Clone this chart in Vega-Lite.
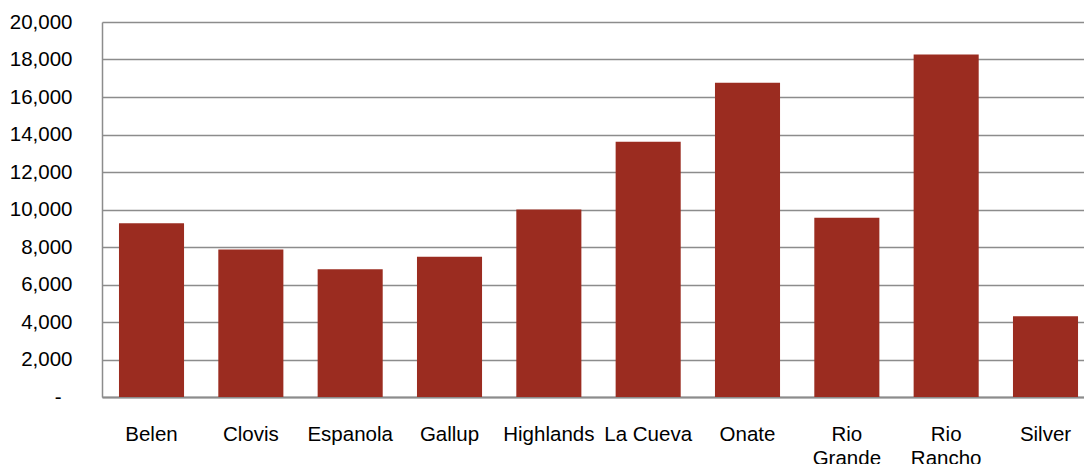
{
  "$schema": "https://vega.github.io/schema/vega-lite/v6.json",
  "width": 982,
  "height": 375,
  "autosize": {"type": "none"},
  "padding": {"left": 102, "top": 22, "right": 0, "bottom": 67},
  "background": "white",
  "data": {
    "values": [
      {"school": "Belen", "value": 9270},
      {"school": "Clovis", "value": 7870},
      {"school": "Espanola", "value": 6820},
      {"school": "Gallup", "value": 7480},
      {"school": "Highlands", "value": 10000},
      {"school": "La Cueva", "value": 13610},
      {"school": "Onate", "value": 16760},
      {"school": "Rio Grande", "value": 9560},
      {"school": "Rio Rancho", "value": 18270},
      {"school": "Silver", "value": 4310}
    ]
  },
  "mark": {"type": "bar", "color": "#9B2C20"},
  "encoding": {
    "x": {
      "field": "school",
      "type": "nominal",
      "sort": null,
      "scale": {"paddingInner": 0.345, "paddingOuter": 0.1155, "align": 0.74},
      "axis": {
        "title": null,
        "labelAngle": 0,
        "labelFont": "Liberation Sans",
        "labelFontSize": 20.5,
        "labelColor": "#000000",
        "labelPadding": 27,
        "labelLineHeight": 24,
        "labelBaseline": "top",
        "labelExpr": "indexof(datum.value, 'Rio ') == 0 ? split(datum.value, ' ') : datum.value",
        "ticks": false,
        "domainColor": "#8c8c8c",
        "domainWidth": 2,
        "grid": false
      }
    },
    "y": {
      "field": "value",
      "type": "quantitative",
      "scale": {"domain": [0, 20000], "nice": false},
      "axis": {
        "title": null,
        "values": [0, 2000, 4000, 6000, 8000, 10000, 12000, 14000, 16000, 18000, 20000],
        "labelExpr": "datum.value == 0 ? '-' : format(datum.value, ',')",
        "labelFont": "Liberation Sans",
        "labelFontSize": 20.5,
        "labelColor": "#000000",
        "labelPadding": {"condition": {"test": "datum.value == 0", "value": 41}, "value": 30},
        "ticks": false,
        "domainColor": "#8c8c8c",
        "domainWidth": 1.5,
        "grid": true,
        "gridColor": "#8c8c8c",
        "gridWidth": 1.5
      }
    }
  },
  "config": {"view": {"stroke": null}}
}
